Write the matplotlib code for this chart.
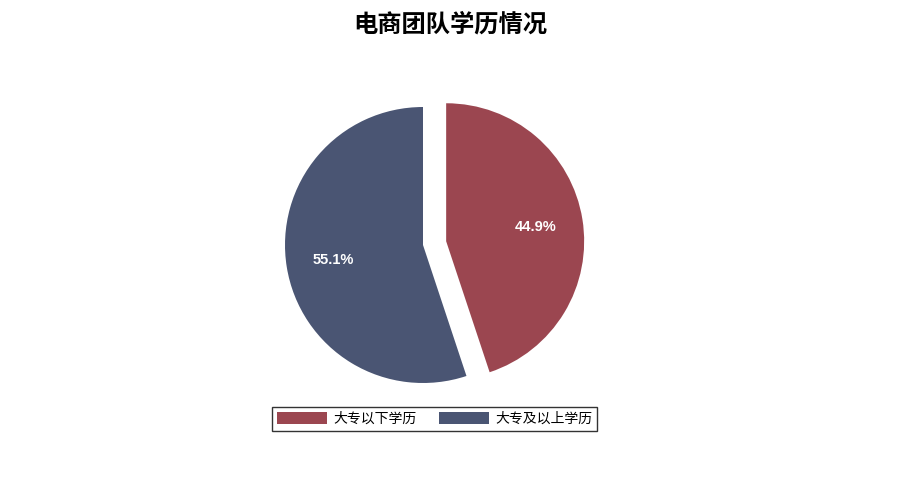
import matplotlib
matplotlib.use('Agg')
import matplotlib.pyplot as plt

plt.rcParams['font.family'] = ['Noto Sans CJK SC', 'DejaVu Sans']

# data
labels = ['大专以下学历', '大专及以上学历']
shares = [44.9, 55.1]
colors = ['#9b4650', '#4a5573']
explode = [0.17, 0]

fig = plt.figure(figsize=(9, 5), dpi=100)
ax = fig.add_axes([0, 0, 1, 1])

wedges, texts, autotexts = ax.pie(shares, colors=colors, explode=explode,
                                  startangle=90, counterclock=False,
                                  autopct='%.1f%%', pctdistance=0.66,
                                  radius=1)
for t in autotexts:
    t.set_color('white')
    t.set_fontsize(10.5)
    t.set_family('Liberation Sans')
    t.set_fontweight('bold')

# 1 unit = 138 px, pie centre at (423, 245) px from top-left
r = 138.0
ax.set_xlim(-423 / r, (900 - 423) / r)
ax.set_ylim(-255 / r, 245 / r)
ax.axis('off')

fig.text(0.5, 0.95, '电商团队学历情况', ha='center', va='center',
         fontsize=17.5, fontweight='bold')

leg = fig.legend(wedges, labels, loc='center', bbox_to_anchor=(0.483, 0.162),
                 ncol=2, fontsize=10, frameon=True, fancybox=False,
                 handlelength=3.6, handleheight=1.0, handletextpad=0.45,
                 columnspacing=1.6, borderpad=0.35)
leg.get_frame().set_edgecolor('black')
leg.get_frame().set_linewidth(1.0)

fig.savefig('out.png', dpi=100)
